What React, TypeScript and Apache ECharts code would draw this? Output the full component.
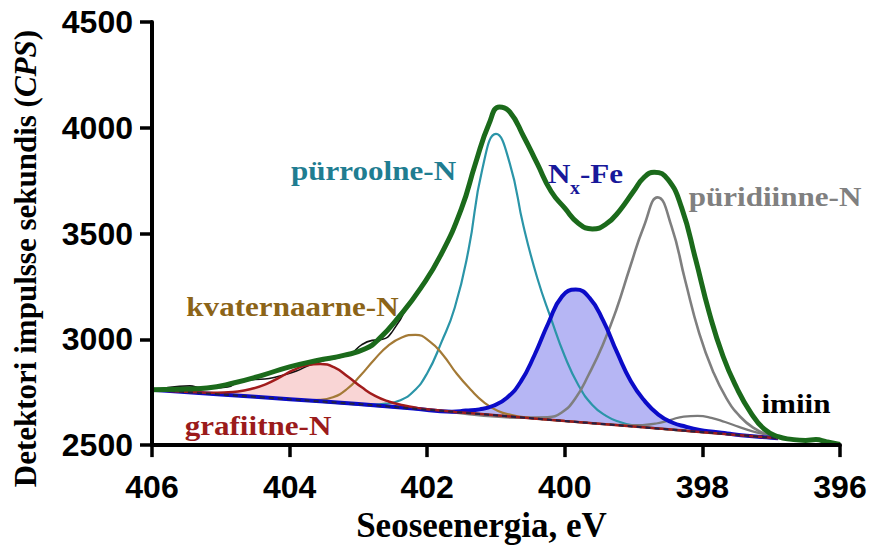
import React, { useEffect, useRef } from "react";
import * as echarts from "echarts";

// Axis ticks
const xTicks = [406, 404, 402, 400, 398, 396];
const yTicks = [2500, 3000, 3500, 4000, 4500];

// Series: [binding energy eV, CPS]
const background: number[][] = [[406, 2762], [403, 2694], [400, 2614], [397, 2535], [396.9, 2532]];

const envelope: number[][] = [
  [406.0, 2762], [405.6, 2764], [405.2, 2770], [404.8, 2795], [404.4, 2830], [404.0, 2870],
  [403.6, 2900], [403.2, 2925], [402.9, 2955], [402.7, 3002], [402.4, 3111], [402.1, 3240],
  [401.8, 3400], [401.5, 3620], [401.3, 3830], [401.1, 4020], [400.95, 4098], [400.8, 4075],
  [400.6, 3960], [400.4, 3830], [400.2, 3700], [400.0, 3620], [399.8, 3548], [399.6, 3522],
  [399.4, 3545], [399.2, 3610], [399.0, 3700], [398.85, 3765], [398.7, 3790], [398.5, 3755],
  [398.3, 3620], [398.1, 3380], [397.9, 3125], [397.7, 2920], [397.5, 2770], [397.3, 2655],
  [397.1, 2575], [396.9, 2540], [396.7, 2527], [396.5, 2522], [396.35, 2526], [396.2, 2516],
  [396.0, 2503],
];

const rawData: number[][] = [
  [406.0, 2760], [405.8, 2770], [405.6, 2778], [405.45, 2780], [405.3, 2772], [405.1, 2770],
  [404.9, 2775], [404.7, 2805], [404.5, 2810], [404.3, 2815], [404.1, 2830], [403.9, 2850],
  [403.7, 2880], [403.5, 2900], [403.3, 2912], [403.1, 2935], [402.95, 2975], [402.8, 2995],
  [402.65, 3000], [402.5, 3040], [402.3, 3150],
];

const pyrrolic: number[][] = [
  [406, 2762], [405, 2739], [404, 2717], [403.2, 2699], [402.8, 2692], [402.6, 2696],
  [402.4, 2711], [402.2, 2753], [402.0, 2840], [401.8, 2981], [401.6, 3149], [401.4, 3422],
  [401.2, 3803], [401.0, 3971], [400.8, 3832], [400.6, 3534], [400.4, 3290], [400.2, 3098],
  [400.0, 2920], [399.8, 2782], [399.6, 2690], [399.4, 2638], [399.2, 2609], [399.0, 2593],
  [398.6, 2578], [398.0, 2561], [397.0, 2535], [396.9, 2532],
];

const nxFe: number[][] = [
  [406, 2762], [405, 2739], [404, 2717], [403, 2694], [402.2, 2673], [401.64, 2658],
  [401.44, 2663], [401.24, 2669], [401.04, 2686], [400.84, 2724], [400.64, 2800],
  [400.44, 2926], [400.24, 3076], [400.04, 3203], [399.84, 3235], [399.64, 3196],
  [399.44, 3087], [399.24, 2938], [399.04, 2802], [398.84, 2709], [398.64, 2644],
  [398.44, 2607], [398.24, 2587], [398.04, 2572], [397.84, 2563], [397.64, 2555],
  [397.44, 2547], [397.0, 2535], [396.9, 2532],
];

const graphitic: number[][] = [
  [406, 2762], [405.6, 2753], [405.35, 2750], [405.15, 2748], [404.95, 2749], [404.75, 2753],
  [404.55, 2766], [404.35, 2787], [404.15, 2819], [403.95, 2854], [403.75, 2877],
  [403.55, 2883], [403.35, 2867], [403.15, 2823], [402.95, 2773], [402.75, 2731],
  [402.55, 2705], [402.35, 2688], [402.15, 2676], [401.95, 2668], [401.6, 2657],
  [401, 2641], [400, 2614], [399, 2588], [398, 2561], [397, 2535], [396.9, 2532],
];

const quaternary: number[][] = [
  [406, 2762], [405, 2739], [404.2, 2721], [403.77, 2713], [403.57, 2714], [403.37, 2726],
  [403.17, 2764], [402.97, 2829], [402.77, 2904], [402.57, 2969], [402.37, 3009],
  [402.17, 3021], [401.97, 2992], [401.77, 2926], [401.57, 2837], [401.37, 2763],
  [401.17, 2701], [400.97, 2661], [400.77, 2642], [400.57, 2631], [400.2, 2619],
  [399, 2588], [398, 2561], [397, 2535], [396.9, 2532],
];

const pyridinic: number[][] = [
  [406, 2762], [404, 2717], [402, 2667], [400.6, 2630], [400.25, 2632], [400.05, 2653],
  [399.85, 2719], [399.65, 2835], [399.45, 2972], [399.25, 3141], [399.05, 3343],
  [398.85, 3535], [398.65, 3671], [398.45, 3535], [398.25, 3278], [398.05, 3033],
  [397.85, 2852], [397.65, 2721], [397.45, 2634], [397.25, 2580], [397.05, 2549],
  [396.9, 2536],
];

const imine: number[][] = [
  [406, 2762], [404, 2717], [402, 2667], [400, 2614], [399.5, 2601], [399.27, 2597],
  [399.07, 2594], [398.87, 2595], [398.67, 2602], [398.47, 2618], [398.27, 2635],
  [398.07, 2638], [397.87, 2629], [397.67, 2609], [397.47, 2586], [397.27, 2565],
  [397.07, 2549], [396.9, 2537],
];

const peakLabels = ["pürroolne-N", "kvaternaarne-N", "grafiitne-N", "püridiinne-N", "imiin"];
const nxFeLabel = ["N", "x", "-Fe"];
const xTitle = "Seoseenergia, eV";
const yTitle = "Detektori impulsse sekundis ({i|CPS})";

const SERIF = '"Liberation Serif", "Times New Roman", serif';
const SANS = '"Liberation Sans", Arial, sans-serif';

function lineSeries(data: number[][], color: string, width: number, extra: any = {}) {
  return {
    type: "line",
    data,
    smooth: 0.5,
    symbol: "none",
    silent: true,
    lineStyle: { color, width },
    ...extra,
  };
}

function areaSeries(data: number[][], color: string, smooth: boolean | number) {
  return {
    type: "line",
    data,
    smooth,
    symbol: "none",
    silent: true,
    lineStyle: { width: 0, color },
    areaStyle: { color, opacity: 1, origin: "start" },
  };
}

function txt(text: string, x: number, y: number, fill: string, size: number, align: string) {
  return {
    type: "text",
    x,
    y,
    scaleX: 1.11,
    silent: true,
    z: 20,
    style: {
      text,
      fill,
      font: `bold ${size}px ${SERIF}`,
      align,
      textAlign: align,
      verticalAlign: "middle",
      textVerticalAlign: "middle",
    },
  };
}

export default function App() {
  const ref = useRef<HTMLDivElement>(null);
  useEffect(() => {
    document.body.style.margin = "0";
    if (!ref.current) return;
    const chart = echarts.init(ref.current, undefined, { renderer: "svg" });
    const axisLabel = { color: "#000", fontFamily: SANS, fontWeight: "bold", fontSize: 32 };
    chart.setOption({
      animation: false,
      backgroundColor: "#fff",
      grid: { left: 152, right: 30, top: 22, bottom: 97, containLabel: false },
      xAxis: {
        type: "value",
        inverse: true,
        min: xTicks[xTicks.length - 1],
        max: xTicks[0],
        interval: 2,
        z: 10,
        axisLine: { onZero: false, lineStyle: { color: "#000", width: 4 } },
        axisTick: { length: 12, lineStyle: { color: "#000", width: 3.5 } },
        axisLabel: { ...axisLabel, margin: 26, formatter: (v: number) => String(v) },
        splitLine: { show: false },
        name: xTitle,
        nameLocation: "middle",
        nameGap: 59,
        nameTextStyle: { fontFamily: SERIF, fontWeight: "bold", fontSize: 35, color: "#000", padding: [0, 29, 0, 0] },
      },
      yAxis: {
        type: "value",
        min: yTicks[0],
        max: yTicks[yTicks.length - 1],
        interval: 500,
        z: 10,
        axisLine: { show: true, onZero: false, lineStyle: { color: "#000", width: 4 } },
        axisTick: { show: true, length: 12, lineStyle: { color: "#000", width: 3.5 } },
        axisLabel: { ...axisLabel, margin: 19, formatter: (v: number) => String(v) },
        splitLine: { show: false },
        name: yTitle,
        nameLocation: "middle",
        nameGap: 111,
        nameTextStyle: {
          fontFamily: SERIF,
          fontWeight: "bold",
          fontSize: 31,
          color: "#000",
          padding: [0, 50, 0, 0],
          rich: { i: { fontFamily: SERIF, fontWeight: "bold", fontStyle: "italic", fontSize: 31, color: "#000" } },
        },
      },
      series: [
        areaSeries(nxFe, "#b6b6f4", 0.5),
        areaSeries(graphitic, "#f9d5d5", 0.5),
        areaSeries(background, "#ffffff", false),
        lineSeries(rawData, "#111111", 1.6),
        lineSeries(pyrrolic, "#2b95a8", 2.2),
        lineSeries(pyridinic, "#7f7f7f", 2.6),
        lineSeries(imine, "#7a7a7a", 2.2),
        lineSeries(quaternary, "#a47a36", 2.2),
        lineSeries(nxFe, "#0b0bc8", 4),
        lineSeries(graphitic, "#a11c1c", 2.5),
        lineSeries(background, "#222244", 2, { smooth: false, lineStyle: { color: "#222244", width: 2, type: [5, 4] } }),
        lineSeries(envelope, "#1b6a1b", 5),
      ],
      graphic: [
        txt(peakLabels[0], 373.5, 170.5, "#1f7d91", 28, "center"),
        txt(peakLabels[1], 292.5, 307, "#8c6418", 28, "center"),
        txt(peakLabels[2], 258, 425.5, "#9b1b1b", 28, "center"),
        txt(peakLabels[3], 775, 197, "#808080", 28, "center"),
        txt(peakLabels[4], 796, 403.5, "#000000", 28, "center"),
        txt(nxFeLabel[0], 548, 174, "#18189a", 28, "left"),
        txt(nxFeLabel[1], 570, 188, "#18189a", 18, "left"),
        txt(nxFeLabel[2], 580, 174, "#18189a", 28, "left"),
      ],
    });
    return () => chart.dispose();
  }, []);
  return <div ref={ref} style={{ width: 870, height: 548 }} />;
}
